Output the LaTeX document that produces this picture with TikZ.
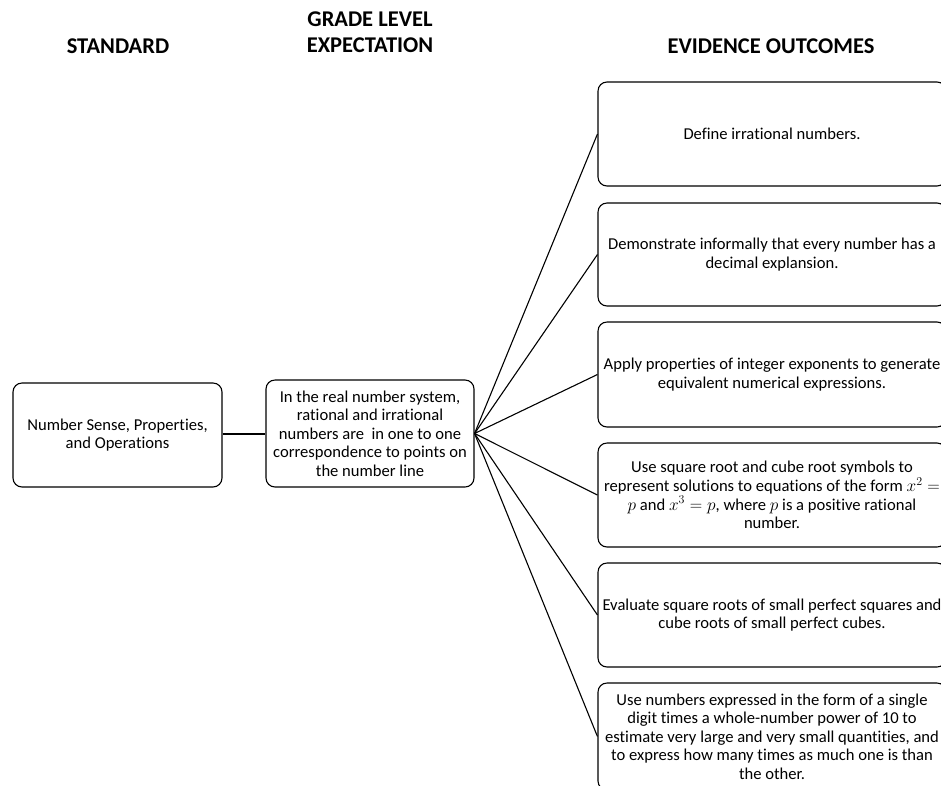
\documentclass[tikz,border=0pt]{standalone}
\usepackage{fontspec}
\setmainfont[Ligatures=NoCommon]{Carlito}
\begin{document}
\begin{tikzpicture}[x=1pt,y=-1pt,
  box/.style={draw=black, line width=1.1pt, rounded corners=9pt, align=center, inner sep=2pt,
    font=\fontsize{16.6}{18.6}\selectfont},
  head/.style={font=\fontsize{22.5}{26}\selectfont\bfseries, align=center},
  conn/.style={line width=1.1pt}]
\useasboundingbox (0,0) rectangle (941,785);
\fill[white] (0,0) rectangle (941,785);
% headers
\node[head] (h1) at (118,46) {STANDARD};
\node[head, anchor=base] (h2) at (370,52) {GRADE LEVEL\\EXPECTATION};
\node[head] (h3) at (771,46) {EVIDENCE OUTCOMES};
% left boxes
\node[box, minimum width=209pt, minimum height=104pt] (std) at (117.5,435) {Number Sense, Properties,\\and Operations};
\node[box, minimum width=208pt, minimum height=107pt] (gle) at (370,433.5) {In the real number system,\\rational and irrational\\numbers are~ in one to one\\correspondence to points on\\the number line};
% right boxes
\node[box, minimum width=348pt, minimum height=104pt] (e1) at (772,134) {Define irrational numbers.};
\node[box, minimum width=348pt, minimum height=103pt] (e2) at (772,254.5) {Demonstrate informally that every number has a\\decimal explansion.};
\node[box, minimum width=348pt, minimum height=105pt] (e3) at (772,374.5) {Apply properties of integer exponents to generate\\equivalent numerical expressions.};
\node[box, minimum width=348pt, minimum height=104pt] (e4) at (772,495) {Use square root and cube root symbols to\\represent solutions to equations of the form $x^2 =$\\$p$ and $x^3 = p$, where $p$ is a positive rational\\number.};
\node[box, minimum width=348pt, minimum height=104pt] (e5) at (772,615) {Evaluate square roots of small perfect squares and\\cube roots of small perfect cubes.};
\node[box, minimum width=348pt, minimum height=107pt] (e6) at (772,736.5) {Use numbers expressed in the form of a single\\digit times a whole-number power of 10 to\\estimate very large and very small quantities, and\\to express how many times as much one is than\\the other.};
% connectors
\draw[conn] (std.east |- 0,434) -- (gle.west |- 0,434);
\foreach \e in {e1,e2,e3,e4,e5,e6}{\draw[conn] (gle.east) -- (\e.west);}
\end{tikzpicture}
\end{document}
